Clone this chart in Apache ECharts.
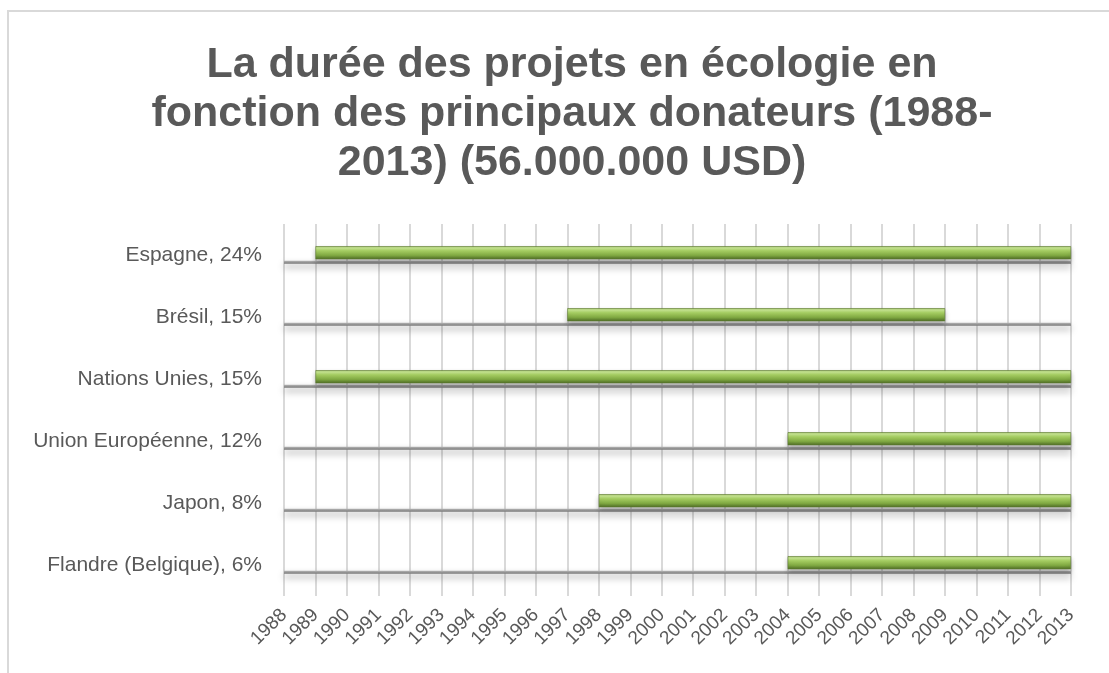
<!DOCTYPE html>
<html>
<head>
<meta charset="utf-8">
<script src="https://cdn.jsdelivr.net/npm/echarts@6/dist/echarts.min.js"></script>
<style>
html,body{margin:0;padding:0;background:#fff;}
#chart{width:1109px;height:673px;}
</style>
</head>
<body>
<div id="chart"></div>
<script>
const titleText = "La durée des projets en écologie en\nfonction des principaux donateurs (1988-\n2013) (56.000.000 USD)";
const categories = ["Espagne, 24%", "Brésil, 15%", "Nations Unies, 15%", "Union Européenne, 12%", "Japon, 8%", "Flandre (Belgique), 6%"];
const startYears = [1989, 1997, 1989, 2004, 1998, 2004];
const endYears = [2013, 2009, 2013, 2013, 2013, 2013];
const axisMin = 1988;
const axisMax = 2013;

const durations = startYears.map((s, i) => endYears[i] - s);
const floorValues = categories.map(() => axisMax);

const chart = echarts.init(document.getElementById('chart'));
chart.setOption({
  backgroundColor: '#ffffff',
  animation: false,
  title: {
    text: titleText,
    left: 567,
    top: 36,
    textAlign: 'center',
    textStyle: {
      fontFamily: 'Liberation Sans, Arial, sans-serif',
      fontSize: 43,
      fontWeight: 'bold',
      color: '#595959',
      lineHeight: 49
    }
  },
  graphic: [{
    type: 'polyline',
    shape: { points: [[8, 700], [8, 11], [1200, 11]] },
    style: { stroke: '#d9d9d9', lineWidth: 2, fill: null },
    silent: true
  }],
  grid: { left: 284, right: 38, top: 224, bottom: 77, containLabel: false },
  xAxis: {
    type: 'value',
    min: axisMin,
    max: axisMax,
    interval: 1,
    axisLine: { show: false },
    axisTick: { show: false },
    splitLine: { show: true, lineStyle: { color: '#d9d9d9', width: 2 } },
    axisLabel: {
      rotate: 45,
      margin: 16,
      fontFamily: 'Liberation Sans, Arial, sans-serif',
      fontSize: 19,
      color: '#595959',
      formatter: v => String(v)
    }
  },
  yAxis: {
    type: 'category',
    data: categories,
    inverse: true,
    axisLine: { show: false },
    axisTick: { show: false },
    splitLine: { show: false },
    axisLabel: {
      margin: 22,
      fontFamily: 'Liberation Sans, Arial, sans-serif',
      fontSize: 21,
      color: '#595959'
    }
  },
  series: [
    {
      type: 'bar',
      stack: 'gantt',
      data: startYears,
      barWidth: 13,
      barGap: '12%',
      itemStyle: { color: 'rgba(0,0,0,0)' },
      silent: true
    },
    {
      type: 'bar',
      stack: 'gantt',
      data: durations,
      barWidth: 13,
      itemStyle: {
        color: new echarts.graphic.LinearGradient(0, 0, 0, 1, [
          { offset: 0, color: '#86a84b' },
          { offset: 0.12, color: '#c9e896' },
          { offset: 0.35, color: '#a9d164' },
          { offset: 0.7, color: '#80a942' },
          { offset: 1, color: '#4e6b25' }
        ]),
        borderColor: '#5f7e30',
        borderWidth: 0.6,
        shadowColor: 'rgba(0,0,0,0.28)',
        shadowBlur: 5,
        shadowOffsetY: 3
      }
    },
    {
      type: 'bar',
      data: floorValues,
      barWidth: 3,
      z: 1,
      itemStyle: {
        color: new echarts.graphic.LinearGradient(0, 0, 0, 1, [
          { offset: 0, color: '#b5b5b5' },
          { offset: 1, color: '#777777' }
        ]),
        shadowColor: 'rgba(0,0,0,0.35)',
        shadowBlur: 7,
        shadowOffsetY: 4
      },
      silent: true
    }
  ]
});
</script>
</body>
</html>
